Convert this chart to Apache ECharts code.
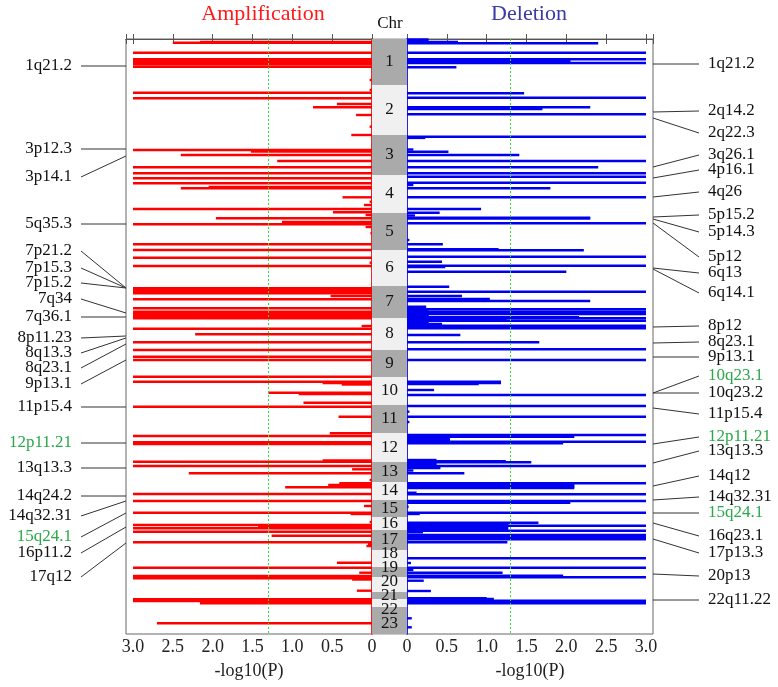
<!DOCTYPE html>
<html><head><meta charset="utf-8">
<script src="https://cdn.jsdelivr.net/npm/echarts@6/dist/echarts.min.js"></script>
<style>html,body{margin:0;padding:0;background:#fff}#c{width:778px;height:687px}</style>
</head><body><div id="c"></div>
<script>
// ---- data ----
const chrNames = ['1','2','3','4','5','6','7','8','9','10','11','12','13','14','15','16','17','18','19','20','21','22','23'];
// chromosome extents along the genome axis (index units)
const chrSizes = [46,50,40,38,37,36,32,32,27,28,28,29,20,18,17,13,20,17,10,15,7,8,27];
const tickValues = [0,0.5,1.0,1.5,2.0,2.5,3.0];
const threshold = 1.3; // -log10(0.05)
const axisMax = 3.088;

// Amplification: [genome position, -log10(P)]
const ampBars = [
 [3,2.16],[3.7,2.5],[13.7,3],[20.3,3],[21.5,3],[22.7,3],[24,3],[25.3,3],[27.7,3],[41,0.03],[51,0.03],
 [53.7,3],[59.3,3],[65,0.44],[68.3,0.74],[76,0.2],[87.7,0.03],
 [96,0.26],[111,3],[112.5,1.52],[116,2.4],[122,1.19],[128.3,3],[134.3,3],
 [139.3,3],[144.3,3],[148,2.05],[149.3,2.4],[158.3,0.37],[162.7,0.03],[166,0.1],[170,3],[173.3,0.49],
 [176,0.08],[179.3,1.96],[183,1.13],[185.3,3],[188,0.08],[194.3,0.02],[205.3,3],
 [211,3],[218.7,3],[223.7,0.03],[227,3],
 [249.3,3],[250.5,3],[251.7,3],[253,3],[254.3,3],[257,0.52],[260.3,3],[269.3,3],[272.7,3],[274,3],[275.3,3],[276.7,3],[278,3],[279.3,3],
 [287,0.13],[289.7,3],[295.3,2.22],[303.3,3],[311,3],
 [317.7,3],[321,3],[337.7,3],
 [342.7,3],[344,0.62],[345.5,0.38],[353.7,1.3],[355,0.92],[363.7,0.86],[367.7,3],
 [377.7,0.42],[394.3,0.53],[397,3],
 [403.3,3],[404.2,3],[405,3],[421.5,0.62],[422.7,3],
 [427,3],[430.3,0.25],[434.3,2.3],[441,0.03],
 [444.3,0.41],[446,0.55],[448.3,1.09],[455,3],
 [462,3],[467,0.1],[473.7,3],[475,0.27],
 [483,0.03],[486,3],[487.6,1.43],[489.3,3],
 [492.7,3],[496.7,1.26],[503.3,3],[505,0.05],[507,0.07],
 [523.7,0.44],[528.7,3],
 [533.7,0.16],[537,3],[539.3,3],[540.5,0.25],
 [551.7,0.19],[560.3,3],[562,3],[564.3,2.16],[584.3,2.7]
];
// Deletion: [genome position, -log10(P)]
const delBars = [
 [0.5,0.27],[1.5,0.27],[3,0.64],[4.3,2.4],[13.7,3],[20.3,3],[21.5,2.05],[22.7,2.05],[24,3],[28.3,0.62],
 [54.3,1.47],[58.7,3],[68.3,2.3],[70,1.7],[75.3,3],
 [97.7,3],[98.9,0.23],[110.5,0.08],[112.7,0.52],[116,1.41],[122,3],[128.3,2.4],[134.3,3],
 [137.7,3],[143.7,3],[146,0.08],[149.3,1.8],[158.3,3],[170,0.93],[173.7,0.41],
 [176.5,0.1],[178.7,2.3],[179.5,2.3],[184.3,3],[201,0.03],[205.3,0.45],
 [210.3,1.15],[211.3,2.22],[217.7,3],[222.7,0.44],[226.7,3],[228,0.48],[232.7,2.0],
 [247.7,0.53],[252.7,3],[257,0.69],[260,1.04],[262,2.3],[267.7,0.24],[268.5,0.24],[270.3,3],[271.5,0.27],
 [272.7,3],[274,0.27],[275,3],[276,0.27],[277,0.27],[278.3,2.16],[279.3,3],[281,1.25],[281.7,3],[283,0.27],[284,0.27],[285,0.44],[286.7,3],[289.3,3],
 [296,0.67],[303.3,1.66],[310.3,3],
 [321,3],
 [342.7,1.18],[344,1.18],[345,0.9],[351,0.34],[356,3],[367,3],
 [372.7,0.03],[377.7,3],[383,0.03],
 [396,3],[397.7,2.1],[399,0.54],[400.2,0.54],[401.4,0.54],[402.7,3],[404.3,1.96],
 [421,0.37],[422.2,1.24],[423.2,1.56],[424.4,0.37],[425.6,0.37],[427,3],[429,0.42],[431.5,0.08],[434.3,0.72],
 [444.3,3],[445.5,2.1],[446.7,2.1],[447.9,2.1],[449,2.1],[453.7,0.12],[455.3,3],
 [462,3],[463.7,2.05],[467.7,0.02],[473.7,3],[475,0.16],
 [483.7,1.65],[484.9,1.27],[486.1,1.27],[486.7,3],[487.9,1.27],[489.1,1.27],[490.3,1.27],
 [491.7,3],[493.3,0.2],[496,3],[498.3,3],[500.3,3],[503.3,1.26],
 [519.3,3],[524,0.05],
 [528.7,3],[531,0.08],[533.7,1.2],
 [536.7,1.96],[538.3,3],[541.7,0.21],
 [552,0.3],[559.3,1.0],[560,1.09],[561.7,3],[564.3,3],
 [579.3,0.06],[588.3,0.06]
];

const leftLabelNames = ['1q21.2','3p12.3','3p14.1','5q35.3','7p21.2','7p15.3','7p15.2','7q34','7q36.1','8p11.23','8q13.3','8q23.1','9p13.1','11p15.4','12p11.21','13q13.3','14q24.2','14q32.31','15q24.1','16p11.2','17q12'];
const leftAnchor    = [27,110,117,185,249,249,249,274,278,297,299,305,321,368,404,429,457,462,474,488,504];
const leftLabelPos  = [27,110,138,185,212,229,244,260,278,299,314,329,345,368,404,429,457,477,498,514,538];
const leftGreen = ['12p11.21','15q24.1'];

const rightLabelNames = ['1q21.2','2q14.2','2q22.3','3q26.1','4p16.1','4q26','5p15.2','5p14.3','5p12','6q13','6q14.1','8p12','8q23.1','9p13.1','10q23.1','10q23.2','11p15.4','12p11.21','13q13.3','14q12','14q32.31','15q24.1','16q23.1','17p13.3','20p13','22q11.22'];
const rightAnchor   = [25,73,79,128,139,158,178,180,184,229,230,288,304,318,354,354,369,405,424,447,461,474,484,500,535,561];
const rightLabelPos = [25,72,94,116,131,153,176,193,218,234,254,287,303,318,337,354,375,398,412,437,458,474,497,514,537,561];
const rightGreen = ['10q23.1','12p11.21','15q24.1'];

// ---- derived layout ----
const chrStart = []; let acc = 0;
chrSizes.forEach(s => { chrStart.push(acc); acc += s; });
const genomeTotal = acc;
const chrLabelPos = chrSizes.map((s, i) => chrStart[i] + s / 2);
for (let it = 0; it < 300; it++) {
  for (let i = 0; i < chrLabelPos.length - 1; i++) {
    const d = chrLabelPos[i + 1] - chrLabelPos[i];
    if (d < 14) { const m = (14 - d) / 2; chrLabelPos[i] -= m; chrLabelPos[i + 1] += m; }
  }
}

const FONT = '"Liberation Serif", "Times New Roman", serif';
const RED = '#ff0000', BLUE = '#0000f0', GREEN = '#2aa84a';

function fmt(v) {
  if (!tickValues.some(t => Math.abs(t - v) < 1e-6)) return '';
  return v === 0 ? '0' : v.toFixed(1);
}
function xAxisPair(grid, inverse) {
  const base = {
    gridIndex: grid, type: 'value', min: 0, max: axisMax, interval: 0.5, inverse: inverse,
    splitLine: { show: false },
    axisLine: { show: true, lineStyle: { color: '#555', width: 1 } },
    axisTick: { show: true, inside: true, length: 5, lineStyle: { color: '#555' } }
  };
  return [
    Object.assign({}, base, {
      position: 'bottom',
      axisLabel: { formatter: fmt, fontFamily: FONT, fontSize: 18, color: '#222', margin: 4 },
      name: '-log10(P)', nameLocation: 'middle', nameGap: 28,
      nameTextStyle: { fontFamily: FONT, fontSize: 18, color: '#222' }
    }),
    Object.assign({}, base, { position: 'top', axisLabel: { show: false } })
  ];
}
function barRender(color) {
  return function (params, api) {
    const v = api.value(0), pos = api.value(1);
    const a = api.coord([0, pos]), b = api.coord([v, pos]);
    const h = 2.4;
    return { type: 'rect', shape: { x: Math.min(a[0], b[0]), y: a[1] - h / 2, width: Math.abs(b[0] - a[0]), height: h },
      style: { fill: color } };
  };
}
function labelRender(names, greens, side) {
  return function (params, api) {
    const cs = params.coordSys;
    const ya = api.coord([0, api.value(1)])[1];
    const yl = api.coord([0, api.value(2)])[1];
    const name = names[params.dataIndex];
    const edge = side === 'left' ? cs.x : cs.x + cs.width;
    const far = side === 'left' ? edge - 45 : edge + 46;
    const tx = side === 'left' ? edge - 54 : edge + 55;
    return { type: 'group', children: [
      { type: 'line', shape: { x1: edge, y1: ya, x2: far, y2: yl }, style: { stroke: '#333', lineWidth: 1 } },
      { type: 'text', x: tx, y: yl, style: { text: name, font: '17px ' + FONT,
        fill: greens.indexOf(name) >= 0 ? GREEN : '#111',
        align: side === 'left' ? 'right' : 'left', verticalAlign: 'middle',
        textAlign: side === 'left' ? 'right' : 'left', textVerticalAlign: 'middle' } }
    ] };
  };
}
const markLine = {
  silent: true, symbol: ['none', 'none'], label: { show: false }, animation: false,
  lineStyle: { color: '#33dd33', type: [2, 2], width: 1 },
  data: [{ xAxis: threshold }]
};

const xl = xAxisPair(0, true), xr = xAxisPair(2, false);
const option = {
  animation: false,
  backgroundColor: '#fff',
  grid: [
    { left: 126, top: 39, width: 246, height: 595, show: true, borderColor: '#666', borderWidth: 1 },
    { left: 372, top: 39, width: 35, height: 595, show: true, borderColor: '#999', borderWidth: 1 },
    { left: 407, top: 39, width: 246, height: 595, show: true, borderColor: '#666', borderWidth: 1 }
  ],
  xAxis: [xl[0], xl[1],
    { gridIndex: 1, type: 'value', min: 0, max: 1, show: false },
    xr[0], xr[1]],
  yAxis: [
    { gridIndex: 0, type: 'value', min: 0, max: genomeTotal, inverse: true, position: 'right',
      axisLine: { show: true, lineStyle: { color: RED, width: 1.5 } }, axisTick: { show: false },
      axisLabel: { show: false }, splitLine: { show: false } },
    { gridIndex: 1, type: 'value', min: 0, max: genomeTotal, inverse: true, show: false },
    { gridIndex: 2, type: 'value', min: 0, max: genomeTotal, inverse: true, position: 'left',
      axisLine: { show: true, lineStyle: { color: BLUE, width: 1.5 } }, axisTick: { show: false },
      axisLabel: { show: false }, splitLine: { show: false } }
  ],
  graphic: [
    { type: 'text', x: 263, y: 14, style: { text: 'Amplification', font: '22px ' + FONT, fill: '#ff1a1a', align: 'center', verticalAlign: 'middle', textAlign: 'center', textVerticalAlign: 'middle' } },
    { type: 'text', x: 529, y: 14, style: { text: 'Deletion', font: '22px ' + FONT, fill: '#3a3aa8', align: 'center', verticalAlign: 'middle', textAlign: 'center', textVerticalAlign: 'middle' } },
    { type: 'text', x: 390, y: 24, style: { text: 'Chr', font: '17px ' + FONT, fill: '#111', align: 'center', verticalAlign: 'middle', textAlign: 'center', textVerticalAlign: 'middle' } }
  ],
  series: [
    { type: 'custom', name: 'Amplification', xAxisIndex: 0, yAxisIndex: 0, silent: true,
      data: ampBars.map(d => [d[1], d[0]]), encode: { x: 0, y: 1 },
      renderItem: barRender(RED), markLine: markLine, z: 2 },
    { type: 'custom', name: 'Deletion', xAxisIndex: 3, yAxisIndex: 2, silent: true,
      data: delBars.map(d => [d[1], d[0]]), encode: { x: 0, y: 1 },
      renderItem: barRender(BLUE), markLine: markLine, z: 2 },
    { type: 'custom', name: 'chr', xAxisIndex: 2, yAxisIndex: 1, silent: true,
      data: chrSizes.map((s, i) => [0, chrStart[i], chrStart[i] + s]), encode: { x: 0, y: [1, 2] },
      renderItem: function (params, api) {
        const a = api.coord([0, api.value(1)]), b = api.coord([1, api.value(2)]);
        return { type: 'rect', shape: { x: a[0], y: a[1], width: b[0] - a[0], height: b[1] - a[1] },
          style: { fill: params.dataIndex % 2 === 0 ? '#aaaaaa' : '#f0f0f0' } };
      }, z: 1 },
    { type: 'custom', name: 'chrLabels', xAxisIndex: 2, yAxisIndex: 1, silent: true, clip: false,
      data: chrNames.map((n, i) => [0.5, chrLabelPos[i]]), encode: { x: 0, y: 1 },
      renderItem: function (params, api) {
        const c = api.coord([0.5, api.value(1)]);
        return { type: 'text', x: c[0], y: c[1], style: { text: chrNames[params.dataIndex], font: '17px ' + FONT, fill: '#111',
          align: 'center', verticalAlign: 'middle', textAlign: 'center', textVerticalAlign: 'middle' } };
      }, z: 3 },
    { type: 'custom', name: 'leftLabels', xAxisIndex: 0, yAxisIndex: 0, silent: true, clip: false,
      data: leftAnchor.map((a, i) => [0, a, leftLabelPos[i]]), encode: { x: 0, y: [1, 2] },
      renderItem: labelRender(leftLabelNames, leftGreen, 'left'), z: 3 },
    { type: 'custom', name: 'rightLabels', xAxisIndex: 3, yAxisIndex: 2, silent: true, clip: false,
      data: rightAnchor.map((a, i) => [0, a, rightLabelPos[i]]), encode: { x: 0, y: [1, 2] },
      renderItem: labelRender(rightLabelNames, rightGreen, 'right'), z: 3 }
  ]
};
const chart = echarts.init(document.getElementById('c'), null, { renderer: 'canvas' });
chart.setOption(option);
</script></body></html>
